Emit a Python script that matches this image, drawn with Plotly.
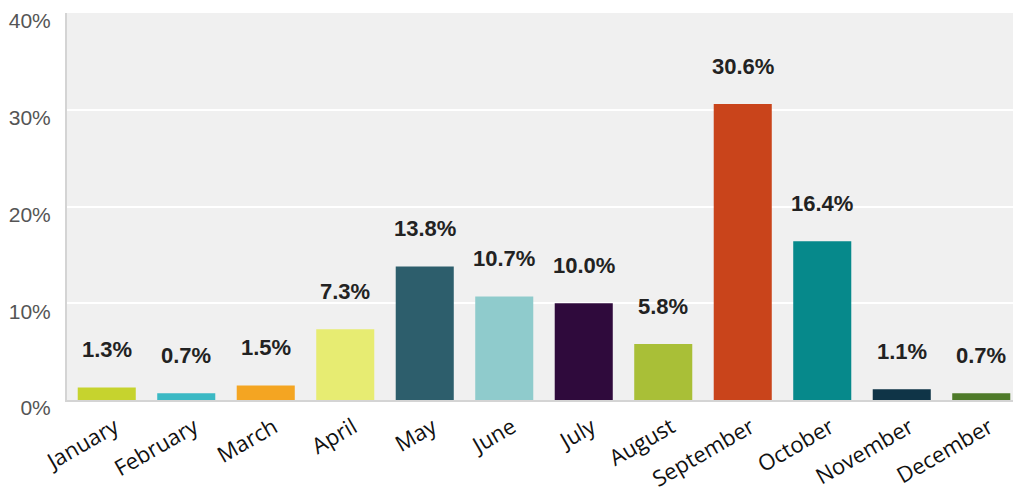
import plotly.graph_objects as go

months = ["January", "February", "March", "April", "May", "June", "July",
          "August", "September", "October", "November", "December"]
shares = [1.3, 0.7, 1.5, 7.3, 13.8, 10.7, 10.0, 5.8, 30.6, 16.4, 1.1, 0.7]
colors = ["#c6d32e", "#3bb9c4", "#f4a522", "#e7ec72", "#2d5e6c", "#8fcbcc",
          "#2f0a3c", "#a9bf37", "#c9441b", "#06898b", "#0f3447", "#4e7a29"]
y_ticks = [0, 10, 20, 30, 40]
y_tick_text = ["0%", "10%", "20%", "30%", "40%"]

fig = go.Figure(go.Bar(
    x=months,
    y=shares,
    marker=dict(color=colors, line_width=0),
    hoverinfo="skip",
))

for m, v in zip(months, shares):
    fig.add_annotation(
        x=m, y=v, text=f"<b>{v:.1f}%</b>", showarrow=False,
        yanchor="bottom", yshift=23,
        font=dict(family="Arial, Liberation Sans, sans-serif", size=22, color="#222222"),
    )

# page body has an 8px margin, so the figure is sized to fill the rest
fig.update_layout(
    width=1013,
    height=486,
    margin=dict(l=59, r=0, t=5, b=94, autoexpand=False),
    paper_bgcolor="#ffffff",
    plot_bgcolor="#f0f0f0",
    bargap=0.27,
    showlegend=False,
)
fig.update_xaxes(
    tickangle=-30,
    automargin=False,
    tickfont=dict(family="Open Sans, sans-serif", size=22, color="#111111"),
    ticklabelshift=8,
    ticklabelstandoff=4,
    showline=True, linecolor="#d4d4d4", linewidth=2,
    ticks="", showgrid=False,
)
fig.update_yaxes(
    range=[0, 40],
    automargin=False,
    tickvals=y_ticks,
    ticktext=y_tick_text,
    tickfont=dict(family="Arial, Liberation Sans, sans-serif", size=21, color="#555555"),
    ticklabelstandoff=10,
    ticklabelshift=8,
    showgrid=True, gridcolor="#ffffff", gridwidth=2,
    showline=True, linecolor="#d4d4d4", linewidth=2,
    zeroline=False,
)

fig.write_html("out.html")
